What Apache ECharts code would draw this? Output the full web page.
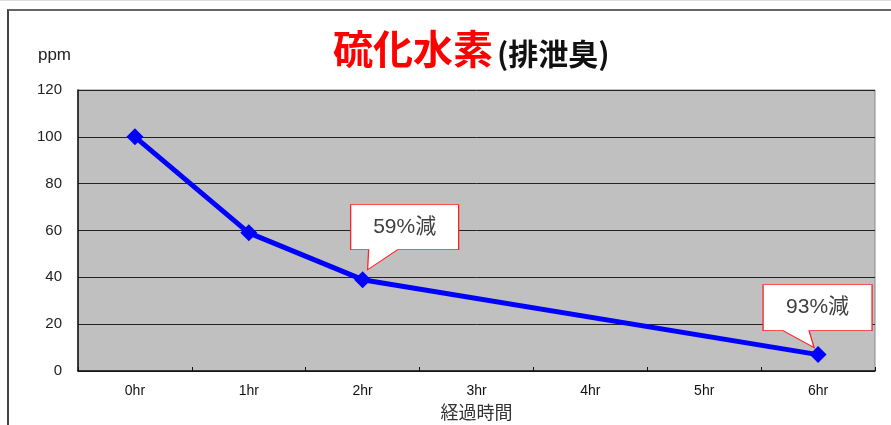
<!DOCTYPE html>
<html>
<head>
<meta charset="utf-8">
<script src="https://cdn.jsdelivr.net/npm/echarts@6/dist/echarts.min.js"></script>
<style>
  html, body { margin: 0; padding: 0; background: #fff; }
  #stage { position: relative; width: 891px; height: 425px; overflow: hidden; border-top: 1px solid #ddd; box-sizing: border-box; }
  #frame { position: absolute; left: 7px; top: 8px; width: 1000px; height: 600px; border-top: 2px solid #666; border-left: 2px solid #444; }
  #chart { position: absolute; left: 0; top: -1px; width: 891px; height: 425px; }
</style>
</head>
<body>
<div id="stage">
  <div id="frame"></div>
  <div id="chart"></div>
</div>
<script>
const hours = ["0hr", "1hr", "2hr", "3hr", "4hr", "5hr", "6hr"];
// no measurement at 3-5hr, the line just joins 2hr and 6hr
const ppm = [100, 59, 39, null, null, null, 7];
const yMin = 0;
const yMax = 120;
const yStep = 20;
const noteAt = ["2hr", "6hr"];
const noteValue = [39, 7];
const noteText = ["59%減", "93%減"];

const FONT = "Liberation Sans, Arial, Noto Sans CJK JP, sans-serif";
const FONT_JP = "Noto Sans CJK JP, sans-serif";

// callout box + tail, drawn around each note
const noteShapes = [
  { path: "path://M0 0H108V45H47L17 65L18 45H0Z", size: [108, 65], offset: [42, -42.5], labelOffset: [0, -10] },
  { path: "path://M0 0H109V46H46L51 63L20 46H0Z", size: [109, 63], offset: [-0.5, -38.5], labelOffset: [0, -8.5] },
];

const chart = echarts.init(document.getElementById("chart"), null, { renderer: "canvas" });

chart.setOption({
  animation: false,
  title: {
    left: 328,
    top: 18,
    text: "{a|硫化水素}{b|(排泄臭)}",
    textStyle: {
      rich: {
        a: { fontFamily: FONT_JP, fontSize: 40, fontWeight: "bold", color: "#ff0000", verticalAlign: "bottom", lineHeight: 46 },
        b: { fontFamily: FONT_JP, fontSize: 30, fontWeight: "bold", color: "#111", verticalAlign: "bottom", lineHeight: 42, padding: [0, 0, 0, 4] },
      },
    },
  },
  grid: {
    left: 78, right: 16, top: 90, bottom: 54,
    outerBoundsMode: "none",
    containLabel: false,
    show: true,
    backgroundColor: "#c0c0c0",
    borderColor: "#888",
    borderWidth: 1,
  },
  xAxis: {
    type: "category",
    data: hours,
    name: "経過時間",
    nameLocation: "middle",
    nameGap: 31,
    nameTextStyle: { fontFamily: FONT_JP, fontSize: 18, color: "#333" },
    axisLine: { lineStyle: { color: "#111", width: 1.5 } },
    axisTick: { show: true, inside: true, length: 4, lineStyle: { color: "#111" } },
    axisLabel: { fontFamily: FONT, fontSize: 14, color: "#111", margin: 13 },
  },
  yAxis: {
    type: "value",
    min: yMin,
    max: yMax,
    interval: yStep,
    name: "ppm",
    nameLocation: "end",
    nameGap: 26,
    nameTextStyle: { fontFamily: FONT, fontSize: 17, color: "#222", align: "right", padding: [0, 7, 0, 0] },
    axisLine: { show: true, lineStyle: { color: "#111", width: 1.5 } },
    axisTick: { show: false },
    axisLabel: { fontFamily: FONT, fontSize: 15, color: "#222", margin: 16 },
    splitLine: { lineStyle: { color: "#222", width: 1 } },
  },
  series: [
    {
      type: "line",
      data: ppm,
      connectNulls: true,
      symbol: "diamond",
      symbolSize: 17,
      lineStyle: { color: "#0000ff", width: 5 },
      itemStyle: { color: "#0000ff" },
      markPoint: {
        silent: true,
        data: noteAt.map((hr, i) => ({
          coord: [hr, noteValue[i]],
          name: noteText[i],
          symbol: noteShapes[i].path,
          symbolSize: noteShapes[i].size,
          symbolOffset: noteShapes[i].offset,
          symbolKeepAspect: false,
          label: { offset: noteShapes[i].labelOffset },
        })),
        itemStyle: { color: "#fff", borderColor: "#ff2020", borderWidth: 1 },
        label: {
          show: true,
          position: "inside",
          formatter: "{b}",
          fontFamily: FONT,
          fontSize: 21,
          color: "#404040",
        },
      },
    },
  ],
});
</script>
</body>
</html>
